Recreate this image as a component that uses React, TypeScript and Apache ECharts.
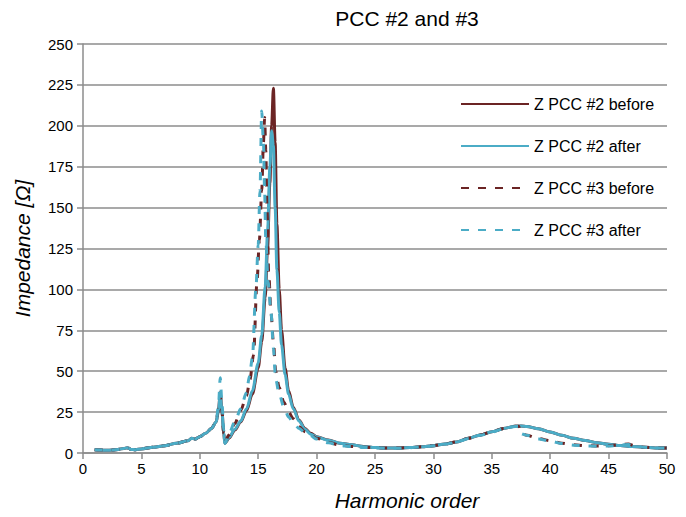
import React, { useEffect, useRef } from "react";
import * as echarts from "echarts";

const chartTitle = "PCC #2 and #3";
const xAxisTitle = "Harmonic order";
const yAxisTitle = "Impedance [Ω]";
const seriesNames = ["Z PCC #2 before", "Z PCC #2 after", "Z PCC #3 before", "Z PCC #3 after"];

const hPcc2 = [1, 1.5, 2, 2.5, 3, 3.5, 3.8, 4.1, 4.5, 5, 6, 7, 8, 9, 9.3, 9.6, 10, 10.5, 11, 11.4, 11.6, 11.75, 11.9, 12.05, 12.15, 12.5, 13, 13.5, 14, 14.5, 15, 15.3, 15.6, 15.8, 16, 16.15, 16.3, 16.45, 16.6, 16.8, 17, 17.3, 17.6, 18, 18.5, 19, 19.5, 20, 21, 22, 23, 24, 25, 26, 27, 28, 29, 30, 31, 32, 33, 34, 35, 36, 37, 37.5, 38, 39, 40, 41, 42, 43, 44, 45, 46, 47, 48, 49, 50];
const zPcc2Before = [2, 1.8, 1.7, 1.8, 2.2, 2.8, 3.2, 2.2, 2, 2.5, 3.5, 4.5, 6, 7.5, 9, 8.5, 10, 12, 15, 19, 26, 37, 25, 12, 6, 9, 14, 19, 26, 36, 52, 68, 95, 125, 165, 200, 223, 190, 140, 100, 75, 52, 38, 28, 20, 15, 12, 10, 8, 6, 5, 4, 3.3, 3, 3, 3.3, 3.8, 4.5, 5.5, 6.8, 9, 11, 13, 15, 16.3, 16.5, 16.2, 14.8, 12.8, 10.8, 9, 7.6, 6.3, 5.3, 4.6, 4, 3.5, 3.1, 3];
const zPcc2After = [2, 1.8, 1.7, 1.8, 2.2, 2.8, 3.2, 2.2, 2, 2.5, 3.5, 4.5, 6, 7.5, 9, 8.5, 10, 12, 15, 19, 26, 36, 25, 12, 6, 9.5, 14.5, 19.5, 27, 38, 55, 72, 102, 135, 175, 197, 188, 150, 112, 86, 66, 48, 36, 27, 19.5, 14.5, 11.5, 9.8, 7.8, 6, 5, 4, 3.3, 3, 3, 3.3, 3.8, 4.5, 5.5, 6.8, 9, 11, 13, 15, 16.3, 16.5, 16.2, 14.8, 12.8, 10.8, 9, 7.6, 6.3, 5.3, 4.6, 4, 3.5, 3.1, 3];

const hPcc3Before = [1, 1.5, 2, 2.5, 3, 3.5, 3.8, 4.1, 4.5, 5, 6, 7, 8, 9, 9.3, 9.6, 10, 10.5, 11, 11.4, 11.6, 11.75, 11.9, 12.05, 12.15, 12.5, 13, 13.5, 14, 14.3, 14.6, 14.9, 15.1, 15.3, 15.45, 15.55, 15.65, 15.75, 15.9, 16.1, 16.3, 16.5, 16.8, 17.2, 17.6, 18, 18.5, 19, 19.5, 20, 21, 22, 23, 24, 25, 26, 27, 28, 29, 30, 31, 32, 33, 34, 35, 36, 37, 37.3, 37.5, 38, 39, 40, 41, 42, 43, 44, 45, 46, 46.7, 47.2, 48, 49, 50];
const zPcc3Before = [2, 1.8, 1.7, 1.8, 2.2, 2.8, 3.2, 2.2, 2, 2.5, 3.5, 4.5, 6, 7.5, 9, 8.5, 10, 12, 15, 19, 27, 35, 26, 12, 7, 11, 18, 26, 35, 45, 60, 105, 130, 160, 190, 205, 185, 150, 110, 85, 68, 50, 40, 31, 25, 21, 16, 13, 11, 9, 6.5, 4.8, 4, 3.5, 3.2, 3, 3, 3.3, 3.8, 4.5, 5.5, 6.8, 9, 11, 13, 15, 16.3, 16.4, 12, 10.8, 8.8, 7.5, 6, 5, 4.5, 4.3, 4.5, 5, 5.5, 4.5, 3.5, 3.1, 3];

const hPcc3After = [1, 1.5, 2, 2.5, 3, 3.5, 3.8, 4.1, 4.5, 5, 6, 7, 8, 9, 9.3, 9.6, 10, 10.5, 11, 11.4, 11.6, 11.75, 11.9, 12.05, 12.15, 12.5, 13, 13.5, 14, 14.25, 14.5, 14.8, 15.0, 15.15, 15.3, 15.45, 15.55, 15.65, 15.85, 16.1, 16.3, 16.5, 16.8, 17.2, 17.6, 18, 18.5, 19, 19.5, 20, 21, 22, 23, 24, 25, 26, 27, 28, 29, 30, 31, 32, 33, 34, 35, 36, 37, 37.3, 37.6, 38, 39, 40, 41, 42, 43, 44, 45, 46, 46.7, 47.2, 48, 49, 50];
const zPcc3After = [2, 1.8, 1.7, 1.8, 2.2, 2.8, 3.2, 2.2, 2, 2.5, 3.5, 4.5, 6, 7.5, 9, 8.5, 10, 12, 15, 19, 29, 46, 30, 14, 6, 12, 19, 27, 37, 47, 58, 100, 127, 160, 209, 190, 160, 130, 105, 86, 64, 45, 36, 28, 22, 18.5, 15, 12.5, 10.5, 8.5, 6.2, 4.6, 3.9, 3.4, 3.1, 2.9, 2.9, 3.2, 3.7, 4.4, 5.4, 6.7, 8.8, 10.8, 12.8, 14.8, 16.2, 16.3, 11.6, 10.8, 8.6, 7.2, 5.8, 4.8, 4.3, 4.2, 4.3, 4.8, 5.2, 4.4, 3.5, 3.1, 3];

const DARK_RED = "#6b2424";
const BLUE = "#4bacc6";
const FONT = "'Liberation Sans', Arial, sans-serif";

const zip = (xs: number[], ys: number[]) => xs.map((x, i) => [x, ys[i]]);

export default function App() {
  const ref = useRef<HTMLDivElement>(null);
  useEffect(() => {
    const chart = echarts.init(ref.current as HTMLDivElement, null, { renderer: "svg" });
    const mk = (name: string, xs: number[], ys: number[], color: string, dashed: boolean) => ({
      name,
      type: "line",
      data: zip(xs, ys),
      showSymbol: false,
      symbol: "none",
      smooth: 0.3,
      smoothMonotone: "x",
      lineStyle: { color, width: 3, type: dashed ? [8, 9] : "solid", cap: "butt" },
      itemStyle: { color },
    });
    chart.setOption({
      animation: false,
      backgroundColor: "#ffffff",
      textStyle: { fontFamily: FONT },
      graphic: [
        {
          type: "text",
          x: 407,
          y: 8,
          style: {
            text: chartTitle,
            fontFamily: FONT,
            fontSize: 21,
            fill: "#000",
            textAlign: "center",
            textVerticalAlign: "top",
          },
        },
      ],
      legend: {
        orient: "vertical",
        left: 455,
        top: 91,
        itemWidth: 68,
        itemHeight: 16,
        itemGap: 26,
        itemStyle: { opacity: 0 },
        textStyle: { fontFamily: FONT, fontSize: 16, color: "#000" },
        data: seriesNames,
      },
      grid: { left: 83, right: 19, top: 44, bottom: 64, containLabel: false },
      xAxis: {
        type: "value",
        min: 0,
        max: 50,
        interval: 5,
        name: xAxisTitle,
        nameLocation: "middle",
        nameGap: 37,
        nameTextStyle: { fontFamily: FONT, fontSize: 21, fontStyle: "italic", color: "#000", padding: [0, 0, 0, 64] },
        axisLine: { show: true, lineStyle: { color: "#8c8c8c", width: 1.5 } },
        axisTick: { show: true, length: 6, lineStyle: { color: "#8c8c8c", width: 1.5 } },
        axisLabel: { fontFamily: FONT, fontSize: 15, color: "#000", margin: 8 },
        splitLine: { show: false },
      },
      yAxis: {
        type: "value",
        min: 0,
        max: 250,
        interval: 25,
        name: yAxisTitle,
        nameLocation: "middle",
        nameGap: 50,
        nameTextStyle: { fontFamily: FONT, fontSize: 21, fontStyle: "italic", color: "#000" },
        axisLine: { show: true, lineStyle: { color: "#8c8c8c", width: 1.5 } },
        axisTick: { show: true, length: 6, lineStyle: { color: "#8c8c8c", width: 1.5 } },
        axisLabel: { fontFamily: FONT, fontSize: 15, color: "#000", margin: 10 },
        splitLine: { show: true, lineStyle: { color: "#8c8c8c", width: 1.5 } },
      },
      series: [
        mk(seriesNames[0], hPcc2, zPcc2Before, DARK_RED, false),
        mk(seriesNames[1], hPcc2, zPcc2After, BLUE, false),
        mk(seriesNames[2], hPcc3Before, zPcc3Before, DARK_RED, true),
        mk(seriesNames[3], hPcc3After, zPcc3After, BLUE, true),
      ],
    });
    return () => chart.dispose();
  }, []);
  return (
    <div
      ref={ref}
      style={{ position: "fixed", left: 0, top: 0, width: 686, height: 517, background: "#fff" }}
    />
  );
}
